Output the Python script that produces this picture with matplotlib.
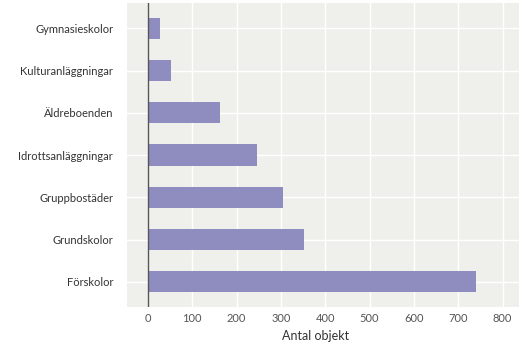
import numpy as np
import matplotlib.pyplot as plt

# categories top to bottom
kategorier = ['Gymnasieskolor', 'Kulturanläggningar', 'Äldreboenden',
              'Idrottsanläggningar', 'Gruppbostäder', 'Grundskolor', 'Förskolor']
antal = [27, 51, 163, 246, 304, 351, 740]
xticks = [0, 100, 200, 300, 400, 500, 600, 700, 800]

plt.rcParams['font.family'] = ['Lato', 'DejaVu Sans']

fig = plt.figure(figsize=(5.25, 3.51), dpi=100)
ax = fig.add_axes([0.242, 0.125, 0.7466, 0.8665])
ax.set_facecolor('#efefeb')

y = np.arange(len(kategorier))
ax.barh(y, antal, height=0.5, color='#8f8cc0', zorder=3)
ax.set_yticks(y)
ax.set_yticklabels(kategorier, fontsize=8, color='#333333')
ax.set_ylim(len(kategorier) - 0.4, -0.6)

ax.set_xticks(xticks)
ax.set_xticklabels([str(v) for v in xticks], fontsize=8, color='#555555')
ax.set_xlim(-47, 837)
ax.set_xlabel('Antal objekt', fontsize=9, color='#333333')
ax.xaxis.set_label_coords(0.482, -0.075)

ax.grid(True, color='white', linewidth=1.0, zorder=0)
ax.axvline(0, color='#555555', linewidth=1.0, zorder=4)
ax.tick_params(axis='y', length=0, pad=10)
ax.tick_params(axis='x', length=0, pad=4)
for s in ax.spines.values():
    s.set_visible(False)

fig.savefig('out.png', dpi=100)
